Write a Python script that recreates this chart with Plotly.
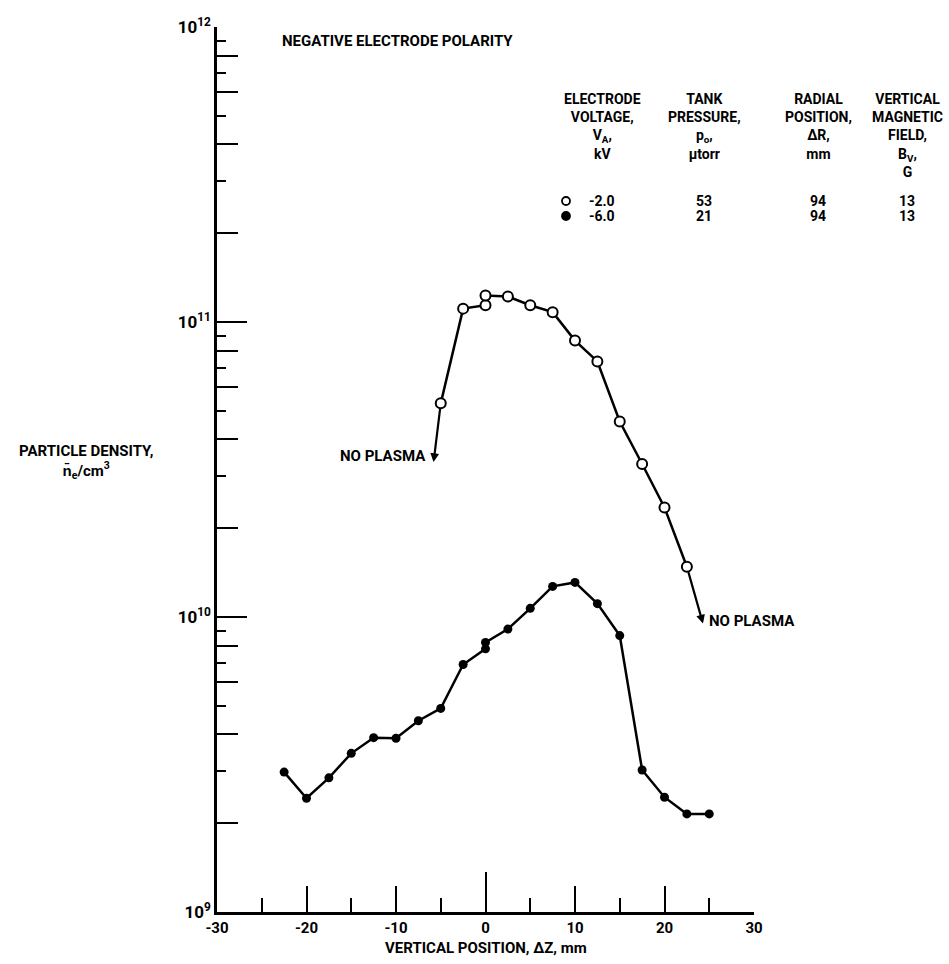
import math
import plotly.graph_objects as go

# Vertical position of the probe, mm
z_open = [-5, -2.5, 0, 0, 2.5, 5, 7.5, 10, 12.5, 15, 17.5, 20, 22.5]
# Electron density, cm^-3, electrode voltage -2.0 kV
ne_open = [5.3e10, 1.11e11, 1.14e11, 1.23e11, 1.22e11, 1.14e11, 1.08e11,
           8.65e10, 7.35e10, 4.6e10, 3.3e10, 2.35e10, 1.48e10]

z_fill = [-22.5, -20, -17.5, -15, -12.5, -10, -7.5, -5, -2.5, 0, 0, 2.5, 5,
          7.5, 10, 12.5, 15, 17.5, 20, 22.5, 25]
# Electron density, cm^-3, electrode voltage -6.0 kV
ne_fill = [2.98e9, 2.43e9, 2.85e9, 3.45e9, 3.9e9, 3.88e9, 4.45e9, 4.9e9,
           6.9e9, 7.8e9, 8.2e9, 9.1e9, 1.07e10, 1.27e10, 1.31e10, 1.11e10,
           8.65e9, 3.03e9, 2.45e9, 2.15e9, 2.15e9]

# Where the -2.0 kV curve runs out ("no plasma") at each end
cutoff_left = (-5.8, 3.35e10)
cutoff_right = (24.3, 9.5e9)

# Legend table
legend_headers = [
    "ELECTRODE<br>VOLTAGE,<br>V<sub>A</sub>,<br>kV",
    "TANK<br>PRESSURE,<br>p<sub>o</sub>,<br>\u03bctorr",
    "RADIAL<br>POSITION,<br>\u0394R,<br>mm",
    "VERTICAL<br>MAGNETIC<br>FIELD,<br>B<sub>V</sub>,<br>G",
]
legend_rows = [
    ["-2.0", "53", "94", "13"],
    ["-6.0", "21", "94", "13"],
]

x_ticks = [-30, -20, -10, 0, 10, 20, 30]
x_minor = [-25, -15, -5, 5, 15, 25]
decades = [9, 10, 11, 12]
y_ticks = [10.0 ** d for d in decades]
y_ticktext = ["10<sup>%d</sup>" % d for d in decades]
y_mid = [m * 10.0 ** d for d in decades[:-1] for m in (2, 4, 6, 8)]
y_short = [m * 10.0 ** d for d in decades[:-1] for m in (3, 5, 7, 9)]

FONT = "Roboto, Liberation Sans, sans-serif"
INK = "black"


def lettering(size):
    return dict(family=FONT, size=size, color=INK, weight="bold")


W, H = 949, 964
ML, MR, MT, MB = 217, 195, 27, 52
PW = W - ML - MR
PH = H - MT - MB


def px_x(p):
    return (p - ML) / PW


def px_y(p):
    return 1 - (p - MT) / PH


fig = go.Figure()

fig.add_trace(go.Scatter(
    x=z_fill, y=ne_fill, mode="lines+markers",
    line=dict(color=INK, width=2.5),
    marker=dict(symbol="circle", size=9, color=INK),
    showlegend=False, hoverinfo="skip"))

fig.add_trace(go.Scatter(
    x=z_open, y=ne_open, mode="lines+markers",
    line=dict(color=INK, width=2.5),
    marker=dict(symbol="circle", size=10, color="white",
                line=dict(color=INK, width=2)),
    showlegend=False, hoverinfo="skip"))

# empty trace so the secondary tick axes get drawn
fig.add_trace(go.Scatter(x=[], y=[], xaxis="x2", yaxis="y2",
                         showlegend=False, hoverinfo="skip"))

annotations = []

# cutoff arrows
for tail, head in (((z_open[0], ne_open[0]), cutoff_left),
                   ((z_open[-1], ne_open[-1]), cutoff_right)):
    annotations.append(dict(
        x=head[0], y=math.log10(head[1]), xref="x", yref="y",
        ax=tail[0], ay=math.log10(tail[1]), axref="x", ayref="y",
        showarrow=True, arrowhead=2, arrowsize=0.8, arrowwidth=2.2,
        arrowcolor=INK, standoff=0, startstandoff=4, text=""))

annotations.append(dict(
    x=cutoff_left[0] - 0.6, y=math.log10(cutoff_left[1]) + 0.02,
    xref="x", yref="y", text="NO PLASMA", showarrow=False,
    xanchor="right", yanchor="middle", font=lettering(15)))
annotations.append(dict(
    x=cutoff_right[0] + 0.5, y=math.log10(cutoff_right[1]) + 0.01,
    xref="x", yref="y", text="NO PLASMA", showarrow=False,
    xanchor="left", yanchor="middle", font=lettering(15)))

# title inside the frame
annotations.append(dict(
    x=px_x(280), y=px_y(41), xref="paper", yref="paper",
    text="NEGATIVE ELECTRODE POLARITY", showarrow=False,
    xanchor="left", yanchor="middle", font=lettering(15)))

# axis titles
annotations.append(dict(
    x=px_x(86), y=px_y(462), xref="paper", yref="paper",
    text="PARTICLE DENSITY,<br>n\u0304<sub>e</sub>/cm<sup>3</sup>",
    showarrow=False, xanchor="center", yanchor="middle",
    font=lettering(15)))
annotations.append(dict(
    x=px_x(486), y=px_y(948), xref="paper", yref="paper",
    text="VERTICAL POSITION, \u0394Z, mm", showarrow=False,
    xanchor="center", yanchor="middle", font=lettering(15)))

# legend table
col_x = [602, 704, 818, 907]
for cx, head in zip(col_x, legend_headers):
    annotations.append(dict(
        x=px_x(cx), y=px_y(89), xref="paper", yref="paper",
        text=head, showarrow=False, xanchor="center", yanchor="top",
        align="center", font=lettering(14)))
row_y = [201, 216]
for ry, row in zip(row_y, legend_rows):
    for cx, val in zip(col_x, row):
        annotations.append(dict(
            x=px_x(cx), y=px_y(ry), xref="paper", yref="paper",
            text=val, showarrow=False, xanchor="center", yanchor="middle",
            font=lettering(14)))

shapes = []
for ry, filled in zip(row_y, (False, True)):
    shapes.append(dict(
        type="circle", xref="paper", yref="paper",
        xsizemode="pixel", ysizemode="pixel",
        xanchor=px_x(566), yanchor=px_y(ry),
        x0=-4, x1=4, y0=-4, y1=4,
        fillcolor=INK if filled else "white",
        line=dict(color=INK, width=1.8)))

fig.update_layout(
    width=W, height=H,
    margin=dict(l=ML, r=MR, t=MT, b=MB),
    paper_bgcolor="white", plot_bgcolor="white",
    font=dict(family=FONT, color=INK),
    annotations=annotations, shapes=shapes,
    xaxis=dict(
        range=[-30, 30], showgrid=False, zeroline=False,
        showline=True, linecolor=INK, linewidth=2.5,
        tickmode="array", tickvals=x_ticks,
        ticktext=[str(v) for v in x_ticks],
        ticks="inside", ticklen=26, tickwidth=2.2, tickcolor=INK,
        minor=dict(tickmode="array", tickvals=x_minor, ticks="inside",
                   ticklen=14, tickwidth=2.2, tickcolor=INK, showgrid=False),
        tickfont=lettering(15),
    ),
    yaxis=dict(
        type="log", range=[9, 12], showgrid=False, zeroline=False,
        showline=True, linecolor=INK, linewidth=2.5,
        tickmode="array", tickvals=y_ticks, ticktext=y_ticktext,
        ticks="inside", ticklen=30, tickwidth=2.2, tickcolor=INK,
        minor=dict(tickmode="array", tickvals=y_short, ticks="inside",
                   ticklen=9, tickwidth=2, tickcolor=INK, showgrid=False),
        tickfont=lettering(17),
    ),
    xaxis2=dict(
        range=[-30, 30], overlaying="x", anchor="y2", showgrid=False,
        zeroline=False, showline=False, showticklabels=False,
        tickmode="array", tickvals=[0], ticks="inside", ticklen=40,
        tickwidth=2.4, tickcolor=INK,
    ),
    yaxis2=dict(
        type="log", range=[9, 12], overlaying="y", anchor="x2",
        showgrid=False, zeroline=False, showline=False,
        showticklabels=False, tickmode="array", tickvals=y_mid,
        ticks="inside", ticklen=21, tickwidth=2, tickcolor=INK,
    ),
)

fig.write_html("out.html")
